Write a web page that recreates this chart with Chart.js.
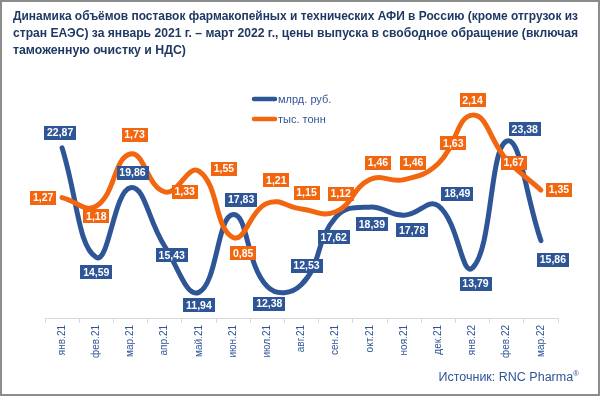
<!DOCTYPE html>
<html>
<head>
<meta charset="utf-8">
<script src="https://cdn.jsdelivr.net/npm/chart.js@4.4.0/dist/chart.umd.min.js"></script>
<style>
html, body { margin: 0; padding: 0; background: #fff; }
#wrap { position: relative; width: 600px; height: 396px; }
#frame { position: absolute; left: 0; top: 0; width: 600px; height: 396px; box-sizing: border-box; border: 2px solid #8c8c8c; pointer-events: none; }
</style>
</head>
<body>
<div id="wrap"><canvas id="chart" width="600" height="396"></canvas><div id="frame"></div></div>
<script>
var months = ['янв.21', 'фев.21', 'мар.21', 'апр.21', 'май.21', 'июн.21', 'июл.21', 'авг.21',
    'сен.21', 'окт.21', 'ноя.21', 'дек.21', 'янв.22', 'фев.22', 'мар.22'];
var rubValues = [22.87, 14.59, 19.86, 15.43, 11.94, 17.83, 12.38, 12.53, 17.62, 18.39, 17.78, 18.49, 13.79, 23.38, 15.86];
var tonValues = [1.27, 1.18, 1.73, 1.33, 1.55, 0.85, 1.21, 1.15, 1.12, 1.46, 1.46, 1.63, 2.14, 1.67, 1.35];
var seriesNames = ['млрд. руб.', 'тыс. тонн'];

// where each value box sits relative to its point (dx, dy)
var rubLabelShift = [[-2, -15], [0, 15], [2, -15], [7, 9], [0, 13], [8, -15], [2, 17], [5, -19],
    [-2, 20], [2, 17], [8, 15], [19, -12], [3, 16], [18, -12], [12, 19]];
var tonLabelShift = [[-19, 0], [0, 10], [4, -19], [20, 0], [25, -2], [10, 16], [9, -23], [5, -16],
    [5, -18], [8, -17], [9, -17], [15, -20], [0, -15], [7, 3], [18, 0]];

var FONT = '"Liberation Sans", Arial, sans-serif';
var BLUE = '#2E5596';
var ORANGE = '#F2660F';
var TEXT_BLUE = '#2F5597';

// value boxes
var valueBoxes = {
    id: 'valueBoxes',
    afterDatasetsDraw: function (chart) {
        var ctx = chart.ctx;
        ctx.save();
        ctx.font = 'bold 10.5px ' + FONT;
        ctx.textAlign = 'center';
        ctx.textBaseline = 'middle';
        chart.data.datasets.forEach(function (ds, di) {
            var meta = chart.getDatasetMeta(di);
            meta.data.forEach(function (pt, i) {
                var txt = ds.data[i].toFixed(2).replace('.', ',');
                var w = Math.round(ctx.measureText(txt).width + 6);
                var h = 14;
                var cx = pt.x + ds.labelShift[i][0];
                var cy = pt.y + ds.labelShift[i][1];
                ctx.fillStyle = ds.borderColor;
                ctx.fillRect(Math.round(cx - w / 2), Math.round(cy - h / 2), w, h);
                ctx.fillStyle = '#fff';
                ctx.fillText(txt, cx, cy + 0.5);
            });
        });
        ctx.restore();
    }
};

// legend in the middle of the plot + source line
var extras = {
    id: 'extras',
    afterDraw: function (chart) {
        var ctx = chart.ctx;
        ctx.save();
        ctx.textBaseline = 'middle';
        ctx.lineCap = 'round';
        chart.data.datasets.forEach(function (ds, di) {
            var y = 99 + di * 20;
            ctx.strokeStyle = ds.borderColor;
            ctx.lineWidth = 4.5;
            ctx.beginPath();
            ctx.moveTo(254, y);
            ctx.lineTo(275, y);
            ctx.stroke();
            ctx.fillStyle = TEXT_BLUE;
            ctx.font = '11px ' + FONT;
            ctx.fillText(ds.label, 278, y + 0.5);
        });

        ctx.fillStyle = TEXT_BLUE;
        ctx.font = '8px ' + FONT;
        ctx.textAlign = 'right';
        ctx.fillText('®', 579, 374);
        var rw = ctx.measureText('®').width;
        ctx.font = '12.5px ' + FONT;
        ctx.fillText('Источник: RNC Pharma', 579 - rw, 378);
        ctx.restore();
    }
};

var ctx = document.getElementById('chart').getContext('2d');
var chart = new Chart(ctx, {
    type: 'line',
    data: {
        labels: months,
        datasets: [{
            label: seriesNames[0],
            data: rubValues,
            yAxisID: 'yRub',
            borderColor: BLUE,
            backgroundColor: BLUE,
            labelShift: rubLabelShift,
            order: 1
        }, {
            label: seriesNames[1],
            data: tonValues,
            yAxisID: 'yTon',
            borderColor: ORANGE,
            backgroundColor: ORANGE,
            labelShift: tonLabelShift,
            order: 0
        }]
    },
    options: {
        responsive: false,
        animation: false,
        devicePixelRatio: 1,
        layout: { padding: { left: 13, right: 22, top: 0, bottom: 38 } },
        elements: {
            line: { borderWidth: 5, tension: 0.45, borderCapStyle: 'round', borderJoinStyle: 'round', fill: false },
            point: { radius: 0, hoverRadius: 0 }
        },
        plugins: {
            legend: { display: false },
            tooltip: { enabled: false },
            title: {
                display: true,
                align: 'start',
                text: [
                    'Динамика объёмов поставок фармакопейных и технических АФИ в Россию (кроме отгрузок из',
                    'стран ЕАЭС) за январь 2021 г. – март 2022 г., цены выпуска в свободное обращение (включая',
                    'таможенную очистку и НДС)'
                ],
                color: '#1F3864',
                font: { family: FONT, size: 12.3, weight: 'bold', lineHeight: 1.37 },
                padding: { top: 8, bottom: 41.4 }
            }
        },
        scales: {
            x: {
                offset: true,
                grid: { display: true, drawOnChartArea: false, tickLength: 5, color: '#D9D9D9', offset: true },
                border: { color: '#D9D9D9' },
                ticks: {
                    autoSkip: false, maxRotation: 90, minRotation: 90, padding: 2,
                    color: TEXT_BLUE, font: { family: FONT, size: 10 }
                },
                afterFit: function (s) { s.height = 40; }
            },
            yRub: {
                position: 'left', min: 10, max: 26.5,
                ticks: { display: false }, grid: { display: false }, border: { display: false },
                afterFit: function (s) { s.width = 32; }
            },
            yTon: {
                position: 'right', min: 0, max: 2.3,
                ticks: { display: false }, grid: { display: false }, border: { display: false },
                afterFit: function (s) { s.width = 20; }
            }
        }
    },
    plugins: [valueBoxes, extras]
});
</script>
</body>
</html>
